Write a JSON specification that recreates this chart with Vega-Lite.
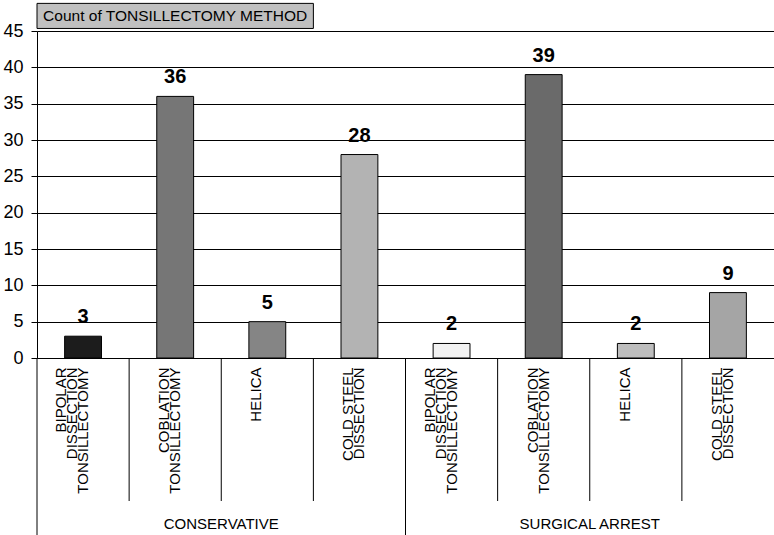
{
  "$schema": "https://vega.github.io/schema/vega-lite/v6.json",
  "padding": {"left": 2, "top": 2, "right": 0, "bottom": 0},
  "background": "white",
  "config": {"view": {"stroke": null}},
  "width": 737,
  "height": 327,
  "data": {"values": [
    {"group": "CONSERVATIVE", "method": "BIPOLAR DISSECTION TONSILLECTOMY", "count": 3},
    {"group": "CONSERVATIVE", "method": "COBLATION TONSILLECTOMY", "count": 36},
    {"group": "CONSERVATIVE", "method": "HELICA", "count": 5},
    {"group": "CONSERVATIVE", "method": "COLD STEEL DISSECTION", "count": 28},
    {"group": "SURGICAL ARREST", "method": "BIPOLAR DISSECTION TONSILLECTOMY", "count": 2},
    {"group": "SURGICAL ARREST", "method": "COBLATION TONSILLECTOMY", "count": 39},
    {"group": "SURGICAL ARREST", "method": "HELICA", "count": 2},
    {"group": "SURGICAL ARREST", "method": "COLD STEEL DISSECTION", "count": 9}
  ]},
  "transform": [{"calculate": "datum.group + '|' + datum.method", "as": "key"}],
  "layer": [
    {
      "mark": {"type": "bar", "width": {"band": 0.4}, "stroke": "black", "strokeWidth": 1},
      "encoding": {
        "x": {
          "field": "key", "type": "nominal", "sort": null,
          "scale": {"paddingInner": 0, "paddingOuter": 0},
          "axis": {
            "title": null, "labelAngle": 270,
            "labelAlign": "right", "labelBaseline": "middle",
            "ticks": false, "tickSize": 0, "labelOffset": -22,
            "labelPadding": 9, "labelFontSize": 15, "labelFont": "Liberation Sans",
            "labelColor": "black", "domainColor": "black", "labelLineHeight": 11,
            "labelExpr": "indexof(datum.value,'BIPOLAR')>=0 ? ['BIPOLAR',' ','DISSECTION',' ','TONSILLECTOMY'] : indexof(datum.value,'COBLATION')>=0 ? [' ','COBLATION',' ','TONSILLECTOMY'] : indexof(datum.value,'COLD')>=0 ? [' ','COLD STEEL',' ','DISSECTION'] : [' ',' ','HELICA']"
          }
        },
        "y": {
          "field": "count", "type": "quantitative",
          "scale": {"domain": [0, 45], "nice": false, "zero": true},
          "axis": {
            "title": null, "values": [0, 5, 10, 15, 20, 25, 30, 35, 40, 45], "tickCount": 12,
            "grid": true, "gridColor": "black", "gridOpacity": 1, "gridWidth": 1,
            "domainColor": "black", "tickColor": "black", "tickSize": 6,
            "labelFontSize": 18, "labelFont": "Liberation Sans", "labelColor": "black",
            "labelPadding": 8, "labelOverlap": false
          }
        },
        "fill": {
          "field": "key", "type": "nominal", "sort": null, "legend": null,
          "scale": {"range": ["#1c1c1c", "#767676", "#858585", "#b3b3b3", "#f2f2f2", "#6a6a6a", "#bdbdbd", "#a5a5a5"]}
        }
      }
    },
    {
      "mark": {"type": "text", "font": "Liberation Sans Narrow, Arial Narrow, Liberation Sans", "fontWeight": "bold", "fontSize": 20, "baseline": "alphabetic", "dy": -13, "color": "black"},
      "encoding": {
        "x": {"field": "key", "type": "nominal", "sort": null},
        "y": {
          "field": "count", "type": "quantitative",
          "axis": {
            "title": null, "values": [0, 5, 10, 15, 20, 25, 30, 35, 40, 45], "tickCount": 12,
            "grid": true, "gridColor": "black", "gridOpacity": 1, "gridWidth": 1,
            "domainColor": "black", "tickColor": "black", "tickSize": 6,
            "labelFontSize": 18, "labelFont": "Liberation Sans", "labelColor": "black",
            "labelPadding": 8, "labelOverlap": false
          }
        },
        "text": {"field": "count", "type": "quantitative"}
      }
    },
    {
      "transform": [{"filter": "datum.method == 'BIPOLAR DISSECTION TONSILLECTOMY'"}],
      "mark": {"type": "rule", "color": "black", "strokeWidth": 1},
      "encoding": {
        "x": {"field": "key", "type": "nominal", "sort": null, "bandPosition": 0},
        "y": {"datum": 0},
        "y2": {"datum": -24.45}
      }
    },
    {
      "transform": [{"filter": "datum.method != 'BIPOLAR DISSECTION TONSILLECTOMY'"}],
      "mark": {"type": "rule", "color": "black", "strokeWidth": 1},
      "encoding": {
        "x": {"field": "key", "type": "nominal", "sort": null, "bandPosition": 0},
        "y": {"datum": 0},
        "y2": {"datum": -19.68}
      }
    },
    {
      "transform": [{"filter": "datum.method == 'HELICA'"}],
      "mark": {"type": "text", "font": "Liberation Sans", "fontSize": 15, "color": "black", "baseline": "middle"},
      "encoding": {
        "x": {"field": "key", "type": "nominal", "sort": null, "bandPosition": 0},
        "y": {"datum": -22.84},
        "text": {"field": "group"}
      }
    },
    {
      "transform": [{"filter": "datum.key == 'CONSERVATIVE|COBLATION TONSILLECTOMY'"}],
      "mark": {"type": "bar", "width": {"band": 3}, "fill": "#c0c0c0", "stroke": "black", "strokeWidth": 1},
      "encoding": {
        "x": {"field": "key", "type": "nominal", "sort": null},
        "y": {"datum": 45.35},
        "y2": {"datum": 48.8}
      }
    },
    {
      "transform": [{"filter": "datum.key == 'CONSERVATIVE|COBLATION TONSILLECTOMY'"}],
      "mark": {"type": "text", "font": "Liberation Sans", "fontSize": 15.5, "color": "black", "baseline": "middle"},
      "encoding": {
        "x": {"field": "key", "type": "nominal", "sort": null},
        "y": {"datum": 47.08},
        "text": {"value": "Count of TONSILLECTOMY METHOD"}
      }
    }
  ]
}
